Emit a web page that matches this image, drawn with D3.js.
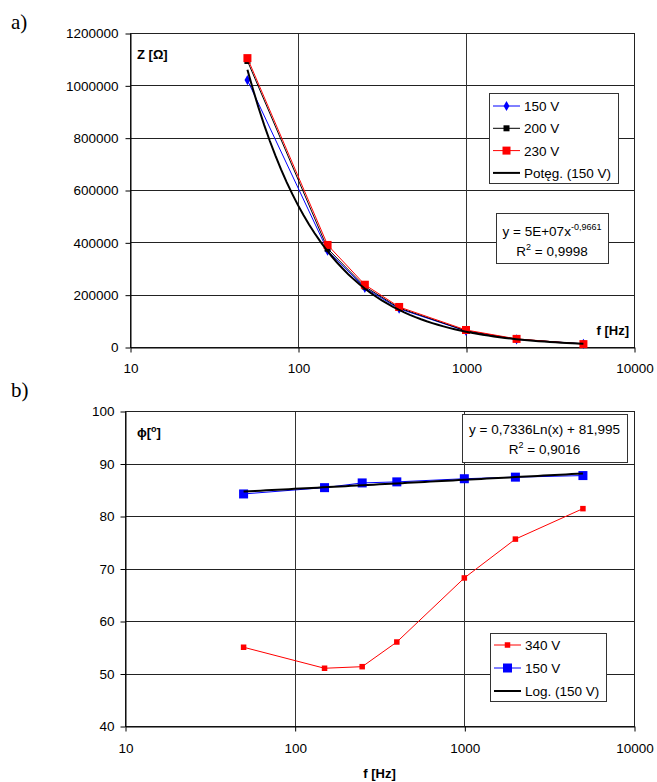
<!DOCTYPE html>
<html>
<head>
<meta charset="utf-8">
<script src="https://cdn.jsdelivr.net/npm/d3@7"></script>
<style>
  body { margin: 0; background: #fff; }
  svg { display: block; }
  text { fill: #000; }
</style>
</head>
<body>
<svg id="chart"></svg>
<script>
// data
const freq = [50, 150, 250, 400, 1000, 2000, 5000];

// a) impedance Z [Ohm]
const z150 = [1020000, 368000, 226000, 146000, 61000, 29000, 12000];
const z200 = [1093000, 376000, 231000, 149000, 62000, 30000, 12000];
const z230 = [1104000, 390000, 238000, 153000, 65000, 31000, 11000];

// b) phase angle [deg]
const phi340 = [55.0, 51.0, 51.3, 56.0, 68.2, 75.6, 81.4];
const phi150 = [84.2, 85.4, 86.3, 86.5, 87.1, 87.4, 87.7];

const xTicks = [10, 100, 1000, 10000];
const zTicks = [0, 200000, 400000, 600000, 800000, 1000000, 1200000];
const phiTicks = [40, 50, 60, 70, 80, 90, 100];

const legendA = ["150 V", "200 V", "230 V", "Potęg. (150 V)"];
const legendB = ["340 V", "150 V", "Log. (150 V)"];

// constants
const width = 657;
const height = 782;
const fontSize = 13.5;
const sans = '"Liberation Sans", Arial, sans-serif';
const serif = '"Liberation Serif", "Times New Roman", serif';

const svg = d3.select('svg#chart').attr('width', width).attr('height', height)
  .style("font-family", sans);

// least squares fits, as the spreadsheet trendlines do
function fitPower(xs, ys) {
  const lx = xs.map(Math.log), ly = ys.map(Math.log);
  const mx = d3.mean(lx), my = d3.mean(ly);
  const b = d3.sum(lx, (d, i) => (d - mx) * (ly[i] - my)) / d3.sum(lx, d => (d - mx) ** 2);
  const a = Math.exp(my - b * mx);
  return x => a * Math.pow(x, b);
}
function fitLog(xs, ys) {
  const lx = xs.map(Math.log);
  const mx = d3.mean(lx), my = d3.mean(ys);
  const a = d3.sum(lx, (d, i) => (d - mx) * (ys[i] - my)) / d3.sum(lx, d => (d - mx) ** 2);
  const b = my - a * mx;
  return x => a * Math.log(x) + b;
}

function marker(g, type, size, color) {
  if (type === "diamond") {
    g.append("path")
      .attr("d", d3.symbol(d3.symbolDiamond, size * size * 0.6)())
      .attr("fill", color);
  } else {
    g.append("rect")
      .attr("x", -size / 2).attr("y", -size / 2)
      .attr("width", size).attr("height", size)
      .attr("fill", color);
  }
}

function panel(o) {
  const x = d3.scaleLog().domain([10, 10000]).range([o.left, o.right]);
  const y = d3.scaleLinear().domain(o.yDomain).range([o.bottom, o.top]);
  const g = svg.append("g");

  // grid
  g.append("g").selectAll("line").data(o.yTicks).join("line")
    .attr("x1", o.left).attr("x2", o.right)
    .attr("y1", d => Math.round(y(d)) + 0.5).attr("y2", d => Math.round(y(d)) + 0.5)
    .attr("stroke", "#222").attr("stroke-width", 1);
  g.append("g").selectAll("line").data(xTicks).join("line")
    .attr("y1", o.top).attr("y2", o.bottom)
    .attr("x1", d => Math.round(x(d)) + 0.5).attr("x2", d => Math.round(x(d)) + 0.5)
    .attr("stroke", "#333").attr("stroke-width", 1);
  g.append("rect")
    .attr("x", o.left + 0.5).attr("y", o.top + 0.5)
    .attr("width", o.right - o.left).attr("height", o.bottom - o.top)
    .attr("fill", "none").attr("stroke", "#222");

  // axes
  const ya = g.append("g").attr("transform", `translate(${o.left + 0.5},0.5)`)
    .call(d3.axisLeft(y).tickValues(o.yTicks).tickFormat(d3.format("d"))
      .tickSize(5).tickSizeOuter(0).tickPadding(o.yPad));
  const xa = g.append("g").attr("transform", `translate(0.5,${Math.round(o.bottom) + 0.5})`)
    .call(d3.axisBottom(x).tickValues(xTicks).tickFormat(d3.format("d"))
      .tickSize(5).tickSizeOuter(0).tickPadding(o.xPad));
  [ya, xa].forEach(a => {
    a.attr("font-family", null).attr("font-size", null);
    a.selectAll("text").attr("font-size", fontSize).attr("fill", "#111");
    a.selectAll("line, path").attr("stroke", "#000");
  });

  const line = d3.line().x(d => x(d[0])).y(d => y(d[1]));

  // series
  o.series.forEach(s => {
    const pts = freq.map((f, i) => [f, s.values[i]]);
    g.append("path").datum(pts)
      .attr("d", line).attr("fill", "none")
      .attr("stroke", s.color).attr("stroke-width", 1);
    g.append("g").selectAll("g").data(pts).join("g")
      .attr("transform", d => `translate(${x(d[0])},${y(d[1])})`)
      .each(function () { marker(d3.select(this), s.marker, s.size, s.color); });
  });

  // trendline
  const tx = d3.range(0, 61).map(i => 50 * Math.pow(100, i / 60));
  g.append("path").datum(tx.map(f => [f, o.trend(f)]))
    .attr("d", line).attr("fill", "none")
    .attr("stroke", "#000").attr("stroke-width", 2);

  // equation box
  const eb = o.eqBox;
  g.append("rect").attr("x", eb.x + 0.5).attr("y", eb.y + 0.5)
    .attr("width", eb.w).attr("height", eb.h)
    .attr("fill", "#fff").attr("stroke", "#333");
  eb.lines.forEach((parts, i) => {
    const t = g.append("text").attr("x", eb.x + eb.w / 2).attr("y", eb.y + eb.base[i])
      .attr("text-anchor", "middle").attr("font-size", fontSize);
    let raised = false;
    parts.forEach(p => {
      if (p.sup) {
        t.append("tspan").attr("font-size", 9).attr("dy", -6).text(p.sup);
        raised = true;
      } else {
        t.append("tspan").attr("dy", raised ? 6 : null).text(p.t);
        raised = false;
      }
    });
  });

  // legend
  const lg = o.legend;
  g.append("rect").attr("x", lg.x + 0.5).attr("y", lg.y + 0.5)
    .attr("width", lg.w).attr("height", lg.h)
    .attr("fill", "#fff").attr("stroke", "#333");
  lg.items.forEach((it, i) => {
    const cy = lg.y + lg.first + i * lg.step;
    g.append("line").attr("x1", lg.x + 4).attr("x2", lg.x + 31)
      .attr("y1", cy).attr("y2", cy)
      .attr("stroke", it.color).attr("stroke-width", it.trend ? 2 : 1);
    if (!it.trend) {
      const m = g.append("g").attr("transform", `translate(${lg.x + 17.5},${cy})`);
      marker(m, it.marker, it.size, it.color);
    }
    g.append("text").attr("x", lg.x + 35).attr("y", cy + 5)
      .attr("font-size", fontSize).text(it.label);
  });

  return {x, y, g};
}

// a) label and chart
svg.append("text").attr("x", 11).attr("y", 29)
  .style("font-family", serif)
  .attr("font-size", 21).text("a)");

const pa = panel({
  left: 130, right: 634, top: 33, bottom: 347,
  yDomain: [0, 1200000], yTicks: zTicks, yPad: 7, xPad: 11,
  series: [
    {values: z150, color: "#0000ff", marker: "diamond", size: 7},
    {values: z200, color: "#000", marker: "square", size: 6},
    {values: z230, color: "#ff0000", marker: "square", size: 8}
  ],
  trend: fitPower(freq, z150),
  eqBox: {x: 496, y: 213, w: 112, h: 50, base: [23, 43],
    lines: [[{t: "y = 5E+07x"}, {sup: "-0,9661"}], [{t: "R"}, {sup: "2"}, {t: " = 0,9998"}]]},
  legend: {x: 489, y: 93, w: 129, h: 90, first: 13, step: 22.3,
    items: [
      {label: legendA[0], color: "#0000ff", marker: "diamond", size: 7},
      {label: legendA[1], color: "#000", marker: "square", size: 6},
      {label: legendA[2], color: "#ff0000", marker: "square", size: 8},
      {label: legendA[3], color: "#000", trend: true}
    ]}
});

pa.g.append("text").attr("x", 137).attr("y", 59)
  .attr("font-size", 13).attr("font-weight", "bold").text("Z [Ω]");
pa.g.append("text").attr("x", 629).attr("y", 335).attr("text-anchor", "end")
  .attr("font-size", 13).attr("font-weight", "bold").text("f [Hz]");

// b) label and chart
svg.append("text").attr("x", 11).attr("y", 397)
  .style("font-family", serif)
  .attr("font-size", 21).text("b)");

const pb = panel({
  left: 125, right: 634, top: 411, bottom: 726,
  yDomain: [40, 100], yTicks: phiTicks, yPad: 6, xPad: 12,
  series: [
    {values: phi340, color: "#ff0000", marker: "square", size: 5.5},
    {values: phi150, color: "#0000ff", marker: "square", size: 9}
  ],
  trend: fitLog(freq, phi150),
  eqBox: {x: 462, y: 414, w: 165, h: 48, base: [20, 40],
    lines: [[{t: "y = 0,7336Ln(x) + 81,995"}], [{t: "R"}, {sup: "2"}, {t: " = 0,9016"}]]},
  legend: {x: 490, y: 633, w: 116, h: 68, first: 12, step: 23,
    items: [
      {label: legendB[0], color: "#ff0000", marker: "square", size: 5.5},
      {label: legendB[1], color: "#0000ff", marker: "square", size: 9},
      {label: legendB[2], color: "#000", trend: true}
    ]}
});

const phiLabel = pb.g.append("text").attr("x", 137).attr("y", 437)
  .attr("font-size", 13).attr("font-weight", "bold");
phiLabel.append("tspan").text("ϕ[");
phiLabel.append("tspan").attr("font-size", 9).attr("dy", -5).text("o");
phiLabel.append("tspan").attr("dy", 5).text("]");

pb.g.append("text").attr("x", (125 + 634) / 2).attr("y", 778).attr("text-anchor", "middle")
  .attr("font-size", 13).attr("font-weight", "bold").text("f [Hz]");
</script>
</body>
</html>
